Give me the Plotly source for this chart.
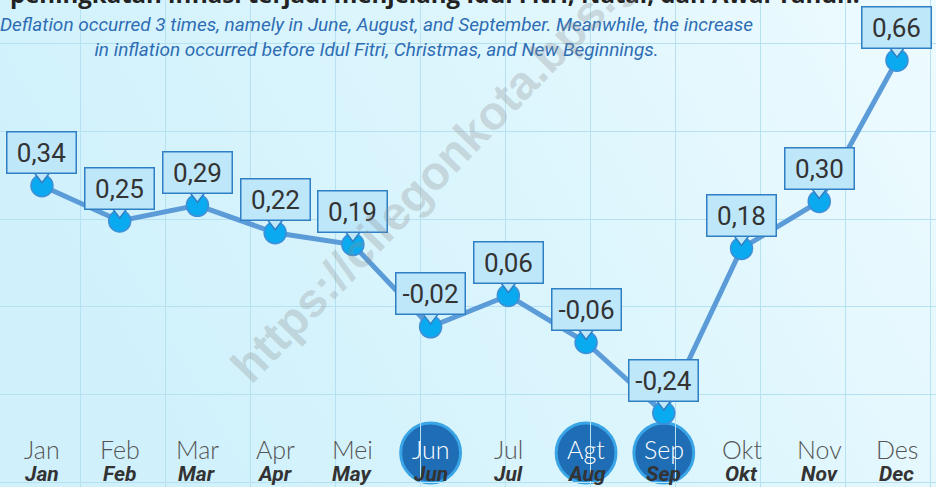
import base64
import plotly.graph_objects as go

# ---- data ----
months_id = ["Jan", "Feb", "Mar", "Apr", "Mei", "Jun", "Jul", "Agt", "Sep", "Okt", "Nov", "Des"]
months_en = ["Jan", "Feb", "Mar", "Apr", "May", "Jun", "Jul", "Aug", "Sep", "Okt", "Nov", "Dec"]
inflation = [0.34, 0.25, 0.29, 0.22, 0.19, -0.02, 0.06, -0.06, -0.24, 0.18, 0.30, 0.66]

title_text = "peningkatan inflasi terjadi menjelang Idul Fitri, Natal, dan Awal Tahun."
subtitle_text = ("Deflation occurred 3 times, namely in June, August, and September. Meanwhile, the increase<br>"
                 "in inflation occurred before Idul Fitri, Christmas, and New Beginnings.")
watermark = "https://cilegonkota.bps.go.id"

# ---- layout constants ----
W, H = 936, 487
Y_RANGE = [-0.4286, 0.8138]
X_RANGE = [-0.54, 11.502]
PPU = H / (Y_RANGE[1] - Y_RANGE[0])  # pixels per data unit on y

LINE_C = "#5b9bd8"
MARK_C = "#0aaaf0"
MARK_EDGE = "#3f8fd6"
BOX_FILL = "#bfe7fa"
BOX_EDGE = "#2f7fc4"
TXT = "#333333"
COND = "Liberation Sans Narrow, Roboto"

svg = f'''<svg xmlns="http://www.w3.org/2000/svg" width="{W}" height="{H}">
<defs><linearGradient id="g" x1="0" y1="0.3" x2="1" y2="0">
<stop offset="0" stop-color="#d0f1fc"/><stop offset="0.55" stop-color="#def6fd"/>
<stop offset="1" stop-color="#eefbff"/></linearGradient></defs>
<rect width="{W}" height="{H}" fill="url(#g)"/></svg>'''
bg_src = "data:image/svg+xml;base64," + base64.b64encode(svg.encode()).decode()

fig = go.Figure()

# decorative background grid (pixel-based overlay axes)
fig.add_trace(go.Scatter(x=[], y=[], xaxis="x2", yaxis="y2", showlegend=False, hoverinfo="skip"))

# line
fig.add_trace(go.Scatter(
    x=months_id, y=inflation, mode="lines",
    line=dict(color=LINE_C, width=5), showlegend=False, hoverinfo="skip"))
# markers
fig.add_trace(go.Scatter(
    x=months_id, y=inflation, mode="markers",
    marker=dict(size=22, color=MARK_C, line=dict(color=MARK_EDGE, width=1.5)),
    showlegend=False, hoverinfo="skip"))
# callout pointers
fig.add_trace(go.Scatter(
    x=months_id, y=[v + 10 / PPU for v in inflation], mode="markers",
    marker=dict(symbol="triangle-down", size=14, color=BOX_FILL, line=dict(color=BOX_EDGE, width=1.5)),
    showlegend=False, hoverinfo="skip"))

annotations = []
shapes = []

# callout boxes
for m, v in zip(months_id, inflation):
    annotations.append(dict(
        x=m, y=v, xref="x", yref="y", yshift=33, showarrow=False,
        text=f"{v:.2f}".replace(".", ","),
        font=dict(family="Roboto", size=26, color=TXT),
        bgcolor=BOX_FILL, bordercolor=BOX_EDGE, borderwidth=1.5, borderpad=5,
        width=58, height=30, align="center", valign="middle",
        xanchor="center", yanchor="middle"))

# month labels + highlight circles for deflation months
for i, (mi, me, v) in enumerate(zip(months_id, months_en, inflation)):
    neg = v < 0
    if neg:
        shapes.append(dict(
            type="circle", xref="x", yref="paper",
            x0=i - 0.385, x1=i + 0.385, y0=1 - 483 / H, y1=1 - 423 / H,
            fillcolor="#1f6db5", line=dict(color="#3aa5e6", width=3), layer="between"))
    annotations.append(dict(
        x=i, y=1 - 449 / H, xref="x", yref="paper", showarrow=False, text=mi,
        font=dict(family="Lato", size=25, color="#ffffff" if neg else "#555555", weight=300),
        xanchor="center", yanchor="middle"))
    annotations.append(dict(
        x=i, y=1 - 474 / H, xref="x", yref="paper", showarrow=False, text=f"<i><b>{me}</b></i>",
        font=dict(family=COND, size=21, color=TXT),
        xanchor="center", yanchor="middle"))

# title (cropped at top) and subtitle
annotations.append(dict(
    x=8 / W, y=1, xref="paper", yref="paper", xanchor="left", yanchor="bottom", yshift=-12,
    showarrow=False, text=f"<b>{title_text}</b>",
    font=dict(family="Open Sans", size=24, color="#222222")))
annotations.append(dict(
    x=376 / W, y=1 - 37 / H, xref="paper", yref="paper", xanchor="center", yanchor="middle",
    showarrow=False, text=f"<i>{subtitle_text}</i>", align="center",
    font=dict(family=COND, size=19, color="#2e6db4")))

# watermark
annotations.append(dict(
    x=462 / W, y=1 - 144 / H, xref="paper", yref="paper", xanchor="center", yanchor="middle",
    showarrow=False, text=f"<b>{watermark}</b>",
    textangle=-46, font=dict(family="Liberation Sans", size=47, color="rgba(140,140,140,0.30)")))

fig.update_layout(
    width=W, height=H, margin=dict(l=0, r=0, t=0, b=0),
    paper_bgcolor="#d6f3fd", plot_bgcolor="rgba(0,0,0,0)",
    xaxis=dict(range=X_RANGE, showgrid=False, zeroline=False, showticklabels=False,
               categoryorder="array", categoryarray=months_id, fixedrange=True),
    yaxis=dict(range=Y_RANGE, showgrid=False, zeroline=False, showticklabels=False, fixedrange=True),
    xaxis2=dict(range=[0, W], overlaying="x", showgrid=True, gridcolor="#b5e1f1", gridwidth=1,
                tick0=80, dtick=85, showticklabels=False, zeroline=False, anchor="y2"),
    yaxis2=dict(range=[H, 0], overlaying="y", showgrid=True, gridcolor="#b5e1f1", gridwidth=1,
                tick0=43.5, dtick=87.8, showticklabels=False, zeroline=False, anchor="x2"),
    images=[dict(source=bg_src, xref="paper", yref="paper", x=0, y=1, sizex=1, sizey=1,
                 sizing="stretch", layer="below", xanchor="left", yanchor="top")],
    shapes=shapes, annotations=annotations, showlegend=False,
)

fig.write_html("out.html", config={"displayModeBar": False},
               post_script="document.body.style.margin='0';")
